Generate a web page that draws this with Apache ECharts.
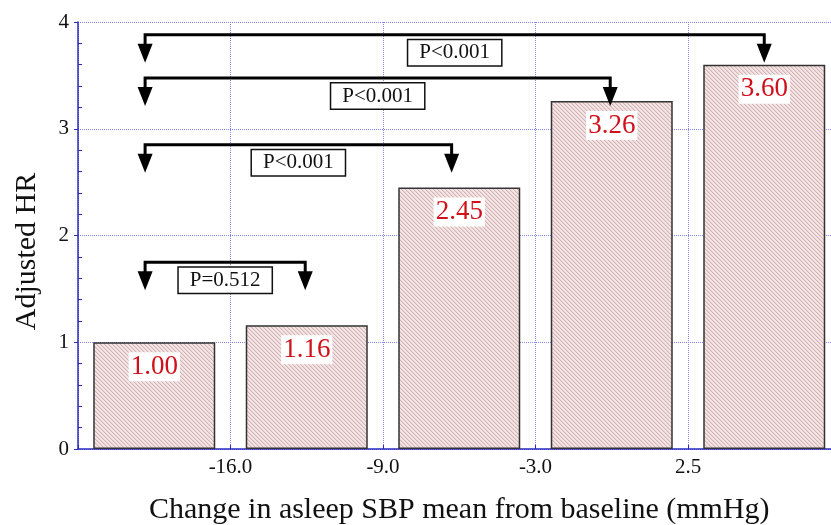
<!DOCTYPE html>
<html><head><meta charset="utf-8">
<script src="https://cdn.jsdelivr.net/npm/echarts@6/dist/echarts.min.js"></script>
<style>html,body{margin:0;padding:0;background:#fff}#c{width:831px;height:525px}</style>
</head><body><div id="c"></div>
<script>
// ---- data ----
const categories = ['< -16.0', '-16.0 to -9.0', '-9.0 to -3.0', '-3.0 to 2.5', '> 2.5'];
const hrValues = [1.00, 1.16, 2.45, 3.26, 3.60];
const xTickLabels = ['-16.0', '-9.0', '-3.0', '2.5'];
// comparison brackets (positions in bin units along the x axis, levels in HR units)
const bracketStart = [0.44, 0.44, 0.44, 0.44];
const bracketEnd = [1.49, 2.45, 3.49, 4.5];
const bracketLevels = [1.75, 2.85, 3.475, 3.88];
const pLabels = ['P=0.512', 'P<0.001', 'P<0.001', 'P<0.001'];

const SERIF = '"Liberation Serif", "Times New Roman", serif';
const AXIS_BLUE = '#2a2ac0';
const GRID_BLUE = '#8585ea';

function makeHatch() {
  const s = 4;
  const c = document.createElement('canvas');
  c.width = s; c.height = s;
  const ctx = c.getContext('2d');
  const img = ctx.createImageData(s, s);
  for (let y = 0; y < s; y++) for (let x = 0; x < s; x++) {
    const i = (y * s + x) * 4;
    const d = (x - y + s) % s;
    const col = d === 0 ? [214, 178, 178] : (d === 1 ? [232, 212, 212] : [242, 229, 229]);
    img.data[i] = col[0]; img.data[i + 1] = col[1]; img.data[i + 2] = col[2]; img.data[i + 3] = 255;
  }
  ctx.putImageData(img, 0, 0);
  return c;
}

const chart = echarts.init(document.getElementById('c'), null, { renderer: 'canvas' });
const bracketData = bracketStart.map((s, i) => [s, bracketEnd[i], bracketLevels[i]]);

chart.setOption({
  animation: false,
  backgroundColor: '#fff',
  grid: { left: 78, top: 22, bottom: 76, right: -9.5, containLabel: false, outerBoundsMode: 'none' },
  xAxis: [
    { type: 'category', data: categories, show: false, boundaryGap: true },
    {
      type: 'value', min: 0, max: 5, interval: 1, position: 'bottom',
      name: 'Change in asleep SBP mean from baseline (mmHg)',
      nameLocation: 'middle', nameGap: 46,
      nameTextStyle: { fontFamily: SERIF, fontSize: 30, color: '#111' },
      axisLine: { show: true, lineStyle: { color: AXIS_BLUE, width: 1.5 } },
      axisTick: { show: true, inside: true, length: 4, lineStyle: { color: AXIS_BLUE } },
      minorTick: { show: true, splitNumber: 5, length: 3, lineStyle: { color: AXIS_BLUE } },
      splitLine: { show: true, lineStyle: { color: GRID_BLUE, type: [1, 1], width: 1 } },
      axisLabel: {
        fontFamily: SERIF, fontSize: 21, color: '#111', margin: 8,
        formatter: v => xTickLabels[Math.round(v) - 1] || ''
      }
    }
  ],
  yAxis: [
    {
      type: 'value', min: 0, max: 4, interval: 1, position: 'left',
      name: 'Adjusted HR', nameLocation: 'middle', nameGap: 36,
      nameTextStyle: { fontFamily: SERIF, fontSize: 30, color: '#111', padding: [0, 32, 0, 0] },
      axisLine: { show: true, lineStyle: { color: AXIS_BLUE, width: 1.5 } },
      axisTick: { show: true, inside: false, length: 4, lineStyle: { color: AXIS_BLUE } },
      splitLine: { show: true, lineStyle: { color: GRID_BLUE, type: [1, 1], width: 1 } },
      axisLabel: { fontFamily: SERIF, fontSize: 21, color: '#111', margin: 9 }
    },
    {
      type: 'value', min: 0, max: 4, interval: 1, position: 'left', offset: 0,
      axisLine: { show: false },
      axisTick: { show: false, inside: true },
      minorTick: { show: true, splitNumber: 5, length: 4, lineStyle: { color: AXIS_BLUE } },
      splitLine: { show: false },
      axisLabel: { show: false }
    }
  ],
  series: [
    {
      type: 'bar', xAxisIndex: 0, yAxisIndex: 0,
      data: hrValues, barWidth: '80%',
      itemStyle: {
        color: { image: makeHatch(), repeat: 'repeat' },
        borderColor: '#333', borderWidth: 1.5
      },
      label: {
        show: true, position: 'insideTop', distance: 10,
        fontFamily: SERIF, fontSize: 27, color: '#d0101a',
        backgroundColor: '#fff', padding: [1, 2],
        formatter: p => p.value.toFixed(2)
      },
      z: 3
    },
    {
      type: 'custom', xAxisIndex: 1, yAxisIndex: 0, data: bracketData, z: 5,
      renderItem: (params, api) => {
        const p1 = api.coord([api.value(0), api.value(2)]);
        const p2 = api.coord([api.value(1), api.value(2)]);
        const y = p1[1];
        const drop = 9, head = 19, hw = 7.5;
        const arrow = x => ({
          type: 'polygon',
          shape: { points: [[x - hw, y + drop], [x + hw, y + drop], [x, y + drop + head]] },
          style: { fill: '#000' }
        });
        return {
          type: 'group',
          children: [
            {
              type: 'polyline',
              shape: { points: [[p1[0], y + drop + 1], [p1[0], y], [p2[0], y], [p2[0], y + drop + 1]] },
              style: { stroke: '#000', lineWidth: 3, fill: null }
            },
            arrow(p1[0]), arrow(p2[0]),
            {
              type: 'text', x: (p1[0] + p2[0]) / 2, y: y + 18,
              style: {
                text: pLabels[params.dataIndex], fontFamily: SERIF, fontSize: 21, fill: '#111',
                align: 'center', verticalAlign: 'middle',
                backgroundColor: '#fff', borderColor: '#111', borderWidth: 1.5, padding: [2, 11]
              }
            }
          ]
        };
      }
    }
  ]
});
</script>
</body></html>
